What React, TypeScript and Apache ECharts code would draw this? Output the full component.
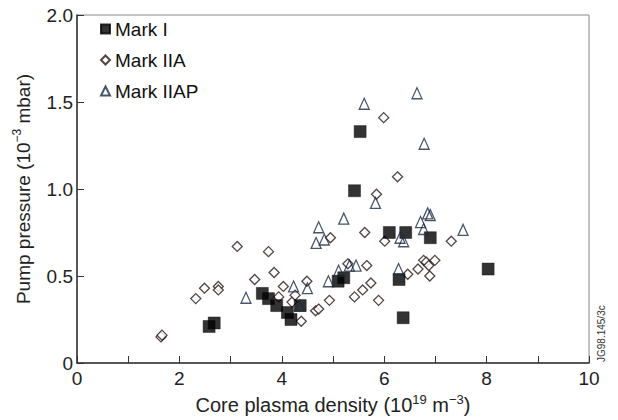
import React, { useEffect, useRef } from "react";
import * as echarts from "echarts";

const markIX = [2.58, 2.68, 3.62, 3.74, 3.9, 4.11, 4.18, 4.36, 5.1, 5.21, 5.42, 5.53, 6.1, 6.29, 6.37, 6.42, 6.9, 8.03];
const markIY = [0.21, 0.23, 0.4, 0.37, 0.33, 0.29, 0.25, 0.33, 0.47, 0.49, 0.99, 1.33, 0.75, 0.48, 0.26, 0.75, 0.72, 0.54];

const markIIAX = [1.64, 1.66, 2.32, 2.49, 2.76, 2.76, 3.13, 3.47, 3.74, 3.85, 3.94, 4.03, 4.2, 4.26, 4.38, 4.49, 4.66, 4.72, 4.93, 4.95, 5.29, 5.42, 5.58, 5.62, 5.66, 5.74, 5.85, 5.89, 5.99, 6.01, 6.26, 6.46, 6.66, 6.77, 6.82, 6.87, 6.89, 6.99, 7.31];
const markIIAY = [0.15, 0.16, 0.37, 0.43, 0.44, 0.42, 0.67, 0.48, 0.64, 0.52, 0.38, 0.44, 0.35, 0.39, 0.24, 0.47, 0.3, 0.31, 0.36, 0.72, 0.57, 0.38, 0.42, 0.75, 0.56, 0.46, 0.97, 0.36, 1.41, 0.7, 1.07, 0.51, 0.54, 0.59, 0.58, 0.56, 0.5, 0.59, 0.7];

const markIIAPX = [3.3, 4.23, 4.5, 4.35, 4.67, 4.72, 4.83, 4.91, 5.11, 5.21, 5.32, 5.45, 5.61, 5.83, 6.28, 6.31, 6.38, 6.64, 6.71, 6.77, 6.78, 6.85, 6.9, 7.54];
const markIIAPY = [0.375, 0.44, 0.43, 0.33, 0.69, 0.78, 0.71, 0.47, 0.53, 0.83, 0.56, 0.56, 1.49, 0.92, 0.54, 0.72, 0.7, 1.55, 0.81, 0.77, 1.26, 0.86, 0.85, 0.765];

const seriesNames = ["Mark I", "Mark IIA", "Mark IIAP"];
const xTitle = "{t|Core plasma density (10}{s|19}{t| m}{s|\u22123}{t|)}";
const yTitle = "{t|Pump pressure (10}{s|\u22123}{t| mbar)}";
const stamp = "JG98.145/3c";

const zip = (xs: number[], ys: number[]) => xs.map((x, i) => [x, ys[i]]);

export default function App() {
  const ref = useRef<HTMLDivElement>(null);
  useEffect(() => {
    if (!ref.current) return;
    const chart = echarts.init(ref.current, null, { renderer: "svg" });
    const font = "Liberation Sans";
    const fs = 19;
    const richY = {
      t: { fontSize: fs, color: "#222", fontFamily: font, lineHeight: 22, verticalAlign: "bottom" },
      s: { fontSize: 12, color: "#222", fontFamily: font, lineHeight: 12, verticalAlign: "top" },
    };
    const richX = {
      t: { fontSize: 20, color: "#222", fontFamily: font, lineHeight: 22, verticalAlign: "bottom" },
      s: { fontSize: 13, color: "#222", fontFamily: font, lineHeight: 12, verticalAlign: "top" },
    };
    chart.setOption({
      animation: false,
      textStyle: { fontFamily: font },
      grid: { left: 77, right: 29, top: 15, bottom: 57, show: true, borderColor: "#888", borderWidth: 1 },
      legend: {
        orient: "vertical",
        left: 95,
        top: 13,
        itemWidth: 9,
        itemHeight: 9,
        itemGap: 9,
        textStyle: { fontSize: fs, color: "#111", fontFamily: font, lineHeight: 22 },
        data: seriesNames,
      },
      xAxis: {
        type: "value",
        min: 0,
        max: 10,
        interval: 2,
        name: xTitle,
        nameLocation: "middle",
        nameGap: 30,
        nameTextStyle: { rich: richX },
        axisLine: { lineStyle: { color: "#333", width: 1.5 } },
        axisTick: { inside: true, length: 7, lineStyle: { color: "#333" } },
        minorTick: { show: true, splitNumber: 2, length: 7, lineStyle: { color: "#333" } },
        splitLine: { show: false },
        axisLabel: { fontSize: fs, color: "#222", margin: 6, fontFamily: font },
      },
      yAxis: {
        type: "value",
        min: 0,
        max: 2,
        interval: 0.5,
        name: yTitle,
        nameLocation: "middle",
        nameGap: 44,
        nameTextStyle: { rich: richY },
        axisLine: { lineStyle: { color: "#333", width: 1.5 } },
        axisTick: { inside: true, length: 7, lineStyle: { color: "#333" } },
        splitLine: { show: false },
        axisLabel: {
          fontSize: fs,
          color: "#222",
          margin: 4,
          fontFamily: font,
          formatter: (v: number) => (v === 0 ? "0" : v.toFixed(1)),
        },
      },
      series: [
        {
          name: seriesNames[0],
          type: "scatter",
          z: 3,
          symbol: "rect",
          symbolSize: 12,
          itemStyle: { color: "#000", borderColor: "#000", borderWidth: 0.5 },
          data: zip(markIX, markIY),
        },
        {
          name: seriesNames[1],
          type: "scatter",
          z: 2,
          symbol: "diamond",
          symbolSize: 10,
          itemStyle: { color: "#fff", borderColor: "#2a1515", borderWidth: 1.3 },
          data: zip(markIIAX, markIIAY),
        },
        {
          name: seriesNames[2],
          type: "scatter",
          z: 4,
          symbol: "triangle",
          symbolSize: [10, 11],
          itemStyle: { color: "rgba(255,255,255,0)", borderColor: "#1c2a45", borderWidth: 1.3 },
          data: zip(markIIAPX, markIIAPY),
        },
      ],
      graphic: [
        {
          type: "text",
          x: 596,
          y: 362,
          rotation: Math.PI / 2,
          style: { text: stamp, fontSize: 10, fill: "#333", fontFamily: font, align: "left", verticalAlign: "top" },
        },
      ],
    });
    return () => chart.dispose();
  }, []);
  return <div ref={ref} style={{ width: 618, height: 420, position: "absolute", left: 0, top: 0 }} />;
}
